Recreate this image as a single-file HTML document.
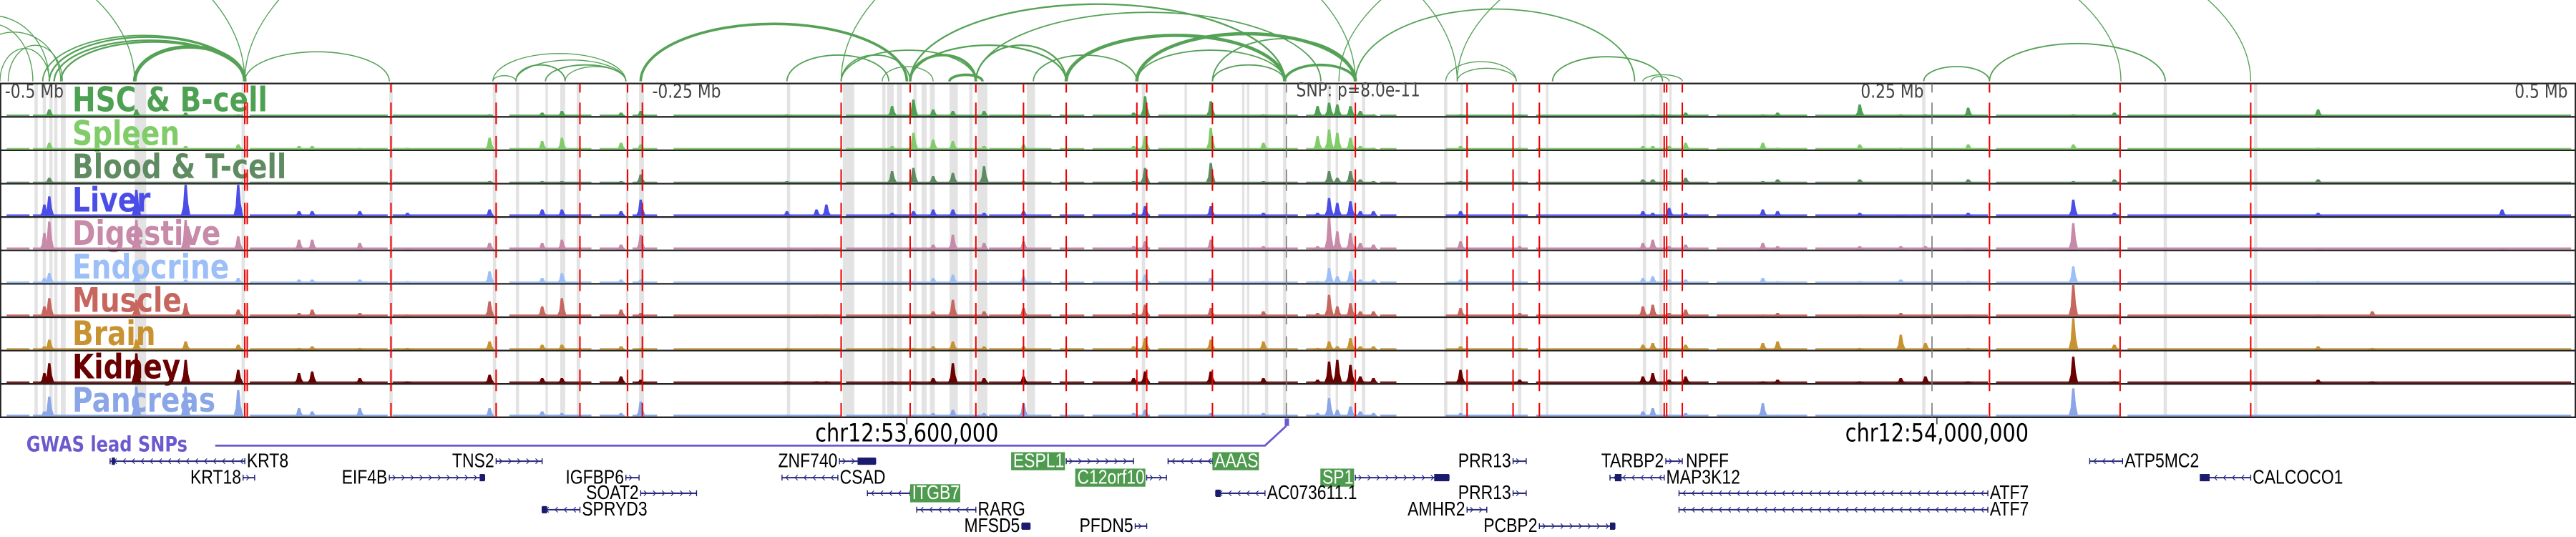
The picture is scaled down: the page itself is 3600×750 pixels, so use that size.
<!DOCTYPE html>
<html><head><meta charset="utf-8">
<style>
html,body{margin:0;padding:0;background:#fff;}
svg{display:block;}
</style></head>
<body>
<svg id="chart" xmlns="http://www.w3.org/2000/svg" width="3600" height="750" viewBox="0 0 1568 326.6" preserveAspectRatio="none">
<g id="arcs"></g>
<g id="bands"></g>
<g id="labels"></g>
<g id="signals"></g>
<g id="borders"></g>
<g id="vlines"></g>
<g id="axis">
  <text x="3" y="59.5" font-family="DejaVu Sans, sans-serif" font-size="9.5" fill="#444">-0.5 Mb</text>
  <text x="397" y="59.5" font-family="DejaVu Sans, sans-serif" font-size="9.5" fill="#444">-0.25 Mb</text>
  <text x="789" y="58.5" font-family="DejaVu Sans, sans-serif" font-size="9.5" fill="#444">SNP: p=8.0e-11</text>
  <text x="1171" y="59.5" text-anchor="end" font-family="DejaVu Sans, sans-serif" font-size="9.5" fill="#444">0.25 Mb</text>
  <text x="1563" y="59.5" text-anchor="end" font-family="DejaVu Sans, sans-serif" font-size="9.5" fill="#444">0.5 Mb</text>
  <line x1="552" y1="254" x2="552" y2="258" stroke="#222" stroke-width="0.6"/>
  <line x1="1179" y1="254" x2="1179" y2="258" stroke="#222" stroke-width="0.6"/>
  <text x="552" y="268.5" text-anchor="middle" font-family="DejaVu Sans, sans-serif" font-size="12.5" fill="#000">chr12:53,600,000</text>
  <text x="1179" y="268.5" text-anchor="middle" font-family="DejaVu Sans, sans-serif" font-size="12.5" fill="#000">chr12:54,000,000</text>
</g>
<g id="gwas">
  <text x="16" y="274.5" font-family="DejaVu Sans, sans-serif" font-weight="bold" font-size="10.5" fill="#6a5acd">GWAS lead SNPs</text>
  <polyline points="131,271 770,271 783,259" fill="none" stroke="#6a5acd" stroke-width="1.2"/>
  <rect x="782" y="254.5" width="2.6" height="4.5" fill="#6a5acd"/>
</g>
<g id="genes"></g>
</svg>
<script>
const NS="http://www.w3.org/2000/svg";
function mk(tag,attrs,parent){const e=document.createElementNS(NS,tag);for(const k in attrs)e.setAttribute(k,attrs[k]);parent.appendChild(e);return e;}

// ---- data ----
const trackNames=["HSC & B-cell","Spleen","Blood & T-cell","Liver","Digestive","Endocrine","Muscle","Brain","Kidney","Pancreas"];
const trackColors=["#4ea152","#80cc68","#5e8b62","#4b4ee6","#c78aa8","#9cbff7","#c6665e","#c7922f","#6b0000","#8aa6e6"];
const bgLevels=[0.8,0.8,0.6,1.0,1.2,0.8,1.0,0.8,0.9,1.0];
const bgRanges=[[4,18],[20,148],[152,236],[239,300],[310,360],[365,380],[385,400],[410,512],[515,600],[602,640],[645,660],[665,700],[705,790],[795,835],[840,850],[880,930],[935,1040],[1045,1100],[1105,1210],[1215,1290],[1295,1565]];
const peakX=[27,30,83,113,145,182,190,219,248,298,330,342,378,390,479,497,503,543,556,568,580,599,623,690,697,737,769,802,809,814,822,828,836,889,925,1000,1006,1016,1026,1073,1082,1132,1157,1172,1198,1262,1287,1411,1444,1523];
const hHSC=[0,4,4,2,1,0,0,0,0,1,2,3,2,3,1,0,0,6,10,4,3,3,1,2,12,9,1,6,8,7,6,3,1,1,1,1,1,1,2,1,2,7,1,1,5,1,2,4,0,0];
const hSpleen=[0,4,3,2,3,2,2,1,1,7,5,7,4,3,1,0,0,2,10,6,5,2,3,2,8,13,4,8,12,10,7,2,1,2,1,2,2,2,4,4,1,3,1,1,3,3,0,1,0,0];
const hBlood=[0,3,0,0,0,0,0,0,0,1,1,1,1,5,1,0,0,7,9,4,6,10,1,1,9,12,1,0,7,3,7,2,1,1,0,2,2,1,3,1,2,2,0,0,2,1,2,2,0,0];
const hLiver=[7,12,16,19,19,3,3,3,2,4,4,4,3,10,3,4,7,2,3,4,4,2,3,2,6,6,2,2,11,8,9,3,3,3,1,3,2,5,2,4,3,2,1,1,2,10,2,2,0,4];
const hDigestive=[10,17,18,18,8,6,6,4,1,4,4,6,3,9,1,1,1,1,1,3,9,4,5,2,5,6,2,2,19,11,10,4,3,5,2,4,6,2,3,4,2,2,2,2,1,16,1,1,0,1];
const hEndocrine=[3,6,8,2,3,2,2,2,1,7,3,6,2,2,1,0,0,1,1,3,5,1,4,1,5,3,1,1,9,4,7,2,2,2,1,3,4,2,2,3,1,1,2,1,1,10,1,1,0,0];
const hMuscle=[6,11,10,8,4,2,4,2,1,9,6,11,4,2,1,1,1,1,1,3,10,3,5,2,7,5,3,2,13,6,8,3,3,5,2,6,7,2,4,1,2,1,2,1,1,19,1,1,3,0];
const hBrain=[2,6,6,5,3,1,2,1,1,5,3,3,2,1,1,0,0,1,1,2,5,2,2,2,7,6,5,1,5,2,7,2,2,2,1,3,4,1,3,4,5,1,9,4,1,19,3,2,1,0];
const hKidney=[6,12,18,14,8,6,7,3,1,5,3,3,4,2,1,1,1,1,1,3,12,3,4,3,7,7,3,2,13,14,11,4,3,8,2,4,6,2,4,1,2,1,3,4,1,16,1,2,1,0];
const hPancreas=[3,12,18,18,16,5,3,5,1,5,3,2,2,9,1,1,1,1,1,2,4,2,8,2,4,2,2,2,11,4,6,3,2,2,1,3,5,1,2,8,1,1,1,1,1,17,1,1,0,0];
const trackHeights=[hHSC,hSpleen,hBlood,hLiver,hDigestive,hEndocrine,hMuscle,hBrain,hKidney,hPancreas];
const redLines=[149,150.5,238,302,353,382,391,512,554,594,623,649,692,698,738,825,893,921,937,1013,1014.5,1024,1211,1290.5,1370];
const grayLines=[783,1176];
const bandStarts=[21,26,30,33,37,82,147,237,300,314,332,341,351,381,389,479,513,537,540,546,556,561,566,578,590,595,625,695,721,756,759,770,781,808,813,822,829,879,889,924,941,1000,1010,1016,1170,1317,1372];
const bandWidths=[2,2,2,2,3,7,2,2,2,2,1.5,3,2,1.5,3,2,7,2,4,3,2,3,3,5,2,6,5,2,1.5,1.5,1.5,2,2,2,1.5,2,2,2,1.5,2,1.5,2,2,1.5,2,2,2];
// arcs: start, end, height, stroke width
const arcStart=[-40,-30,-20,0,5,30,33,37,26,82,149,-200,-150,149,300,300,314,332,314,344,390,479,512,512,537,554,578,554,594,629,649,554,594,692,738,738,692,782,825,945,880,887,1000,1005,512,815,887,1171,1211];
const arcEnd=[30,20,37,30,38,149,149,149,149,149,237,82,149,887,381,314,344,381,381,381,552,541,554,594,568,594,598,649,649,692,782,782,804,782,825,782,825,825,995,1012,923,923,1024,1016,825,1291,1370,1211,1318];
const arcHeight=[40,35,30,20,22,27,25,24,28,21,18,90,100,150,17,3.5,10,10,13,9,35,16,16,19,9,16,4,22,22,16,28,47,42,19,26,10,29,10,44,15,12,8,4,3,100,110,110,9,23];
const arcWidth=[0.6,0.6,0.6,0.6,0.6,1,1,1,0.8,2.2,0.7,0.6,0.6,0.6,0.6,0.6,0.8,0.8,0.6,0.6,1.6,0.8,0.8,0.8,0.6,1.6,1.6,1,1,0.8,2,1,0.8,0.8,0.8,0.8,2,1.6,0.8,0.8,0.6,0.6,0.6,0.6,0.6,0.6,0.6,0.8,0.8];
// genes
const geneNames=["KRT8","TNS2","ZNF740","ESPL1","AAAS","PRR13","TARBP2","ATP5MC2","KRT18","EIF4B","IGFBP6","CSAD","C12orf10","SP1","MAP3K12","CALCOCO1","SOAT2","ITGB7","AC073611.1","PRR13","ATF7","SPRYD3","RARG","AMHR2","ATF7","MFSD5","PFDN5","PCBP2","NPFF"];
const geneStart=[67,302,511,649,711,921,1014,1272,148,237,381,476,698,825,980,1340,390,528,740,921,1022,330,558,893,1022,622,691,937,1025];
const geneEnd=[149,330,533,690,738,929,1024,1292,155,295,389,510,710,882,1013,1370,424,554,770,929,1210,353,594,905,1210,627,698,983,1025];
const geneRow=[0,0,0,0,0,0,0,0,1,1,1,1,1,1,1,1,2,2,2,2,2,3,3,3,3,4,4,4,0];
const geneStrand=["-","+","+","+","-","+","+","-","+","+","+","-","+","+","-","-","+","-","-","+","-","-","-","+","-","+","+","+","+"];
const geneLabelSide=["R","L","L","L","R","L","L","R","L","L","L","R","L","L","R","R","L","R","R","L","R","R","R","L","R","L","L","L","R"];
const geneBoxed=[0,0,0,1,1,0,0,0,0,0,0,0,1,1,0,0,0,1,0,0,0,0,0,0,0,0,0,0,0];
const thickStart=[522,292,873,740,330,1339,622,980,983,68];
const thickEnd=[533,295,882,743,333,1345,627,983,987,70];
const thickRow=[0,1,1,2,3,1,4,4,1,0];
const rowY=[280.5,290.5,300,310,320];

const T0=50.8, TH=20.3;
const arcBase=49.5;
const SY=1.22;
function stretch(t){const y=+t.getAttribute('y');t.setAttribute('transform',`translate(0,${y}) scale(1,${SY}) translate(0,${-y})`);}

// arcs
const gA=document.getElementById('arcs');
for(let i=0;i<arcStart.length;i++){
  const x1=arcStart[i],x2=arcEnd[i],rx=(x2-x1)/2,h=arcHeight[i];
  const p=mk('path',{d:`M${x1},${arcBase} A${rx},${h} 0 0 1 ${x2},${arcBase}`,fill:'none',stroke:'#55a257','stroke-width':arcWidth[i]},gA);
  
  
}
// bands
const gB=document.getElementById('bands');
for(let i=0;i<bandStarts.length;i++){
  const r=mk('rect',{x:bandStarts[i],y:T0,width:bandWidths[i],height:TH*10,fill:'#e3e3e3'},gB);
  
  
}
// labels
const gL=document.getElementById('labels');
trackNames.forEach((n,i)=>{
  const t=mk('text',{x:44,y:T0+i*TH+17,'font-family':'DejaVu Sans, sans-serif','font-weight':'bold','font-size':17,fill:trackColors[i]},gL);
  t.textContent=n;
  
  
  stretch(t);
});
// signals
const gS=document.getElementById('signals');
trackNames.forEach((n,i)=>{
  const base=T0+(i+1)*TH-0.6;
  const g=mk('g',{fill:trackColors[i]},gS);
  
  
  bgRanges.forEach(r=>{
    const b=mk('rect',{x:r[0],y:base-bgLevels[i],width:r[1]-r[0],height:bgLevels[i]},g);
    
    
  });
  const hs=trackHeights[i];
  peakX.forEach((x,j)=>{
    const h=hs[j]; if(!h) return;
    const d=`M${x-3},${base} L${x-1.6},${base-h*0.3} L${x-0.7},${base-h} L${x+0.7},${base-h} L${x+1.6},${base-h*0.4} L${x+3},${base} Z`;
    const p=mk('path',{d:d},g);
    
    
  });
});
// borders
const gR=document.getElementById('borders');
for(let i=0;i<=10;i++){
  const l=mk('line',{x1:0,x2:1568,y1:T0+i*TH,y2:T0+i*TH,stroke:'#222','stroke-width':1},gR);
  
  
}
const fr1=mk('line',{x1:0.4,x2:0.4,y1:T0,y2:T0+10*TH,stroke:'#222','stroke-width':0.8},gR);


const fr2=mk('line',{x1:1567.6,x2:1567.6,y1:T0,y2:T0+10*TH,stroke:'#222','stroke-width':0.8},gR);


// vertical dashed lines
const gV=document.getElementById('vlines');
function dashed(x,color,w,name){
  const segs=[[T0,T0+5.5]];
  for(let i=1;i<10;i++){const b=T0+i*TH;segs.push([b-8.7,b+4.4]);}
  segs.push([T0+10*TH-8.7,T0+10*TH]);
  segs.forEach(s=>{
    const l=mk('line',{x1:x,x2:x,y1:s[0],y2:s[1],stroke:color,'stroke-width':w},gV);
    
    
  });
}
redLines.forEach(x=>dashed(x,'#ee0000',0.9,'snp-marker-line'));
grayLines.forEach(x=>dashed(x,'#777',0.7,'lead-snp-line'));
// genes
const gG=document.getElementById('genes');
for(let i=0;i<geneNames.length;i++){
  const y=rowY[geneRow[i]],x1=geneStart[i],x2=geneEnd[i];
  const g=mk('g',{},gG);
  
  
  if(x2>x1){
    mk('line',{x1:x1,x2:x2,y1:y,y2:y,stroke:'#2a2a80','stroke-width':0.9},g);
    for(let cx=x1+3;cx<x2-1;cx+=5.5){
      const d=geneStrand[i]==='+'?`M${cx-1},${y-1.6} L${cx+0.6},${y} L${cx-1},${y+1.6}`:`M${cx+1},${y-1.6} L${cx-0.6},${y} L${cx+1},${y+1.6}`;
      mk('path',{d:d,fill:'none',stroke:'#2a2a80','stroke-width':0.5},g);
    }
    mk('line',{x1:x1,x2:x1,y1:y-1.8,y2:y+1.8,stroke:'#1a1a6e','stroke-width':0.6},g);
    mk('line',{x1:x2,x2:x2,y1:y-1.8,y2:y+1.8,stroke:'#1a1a6e','stroke-width':0.6},g);
  }
  const left=geneLabelSide[i]==='L';
  const tx=left?x1-1.2:x2+1.2;
  const t=mk('text',{x:tx,y:y+3.6,'text-anchor':left?'end':'start','font-family':'Liberation Sans, sans-serif','font-size':10,fill:geneBoxed[i]?'#fff':'#000'},g);
  t.textContent=geneNames[i];
  if(geneBoxed[i]){
    const w=t.getComputedTextLength()+1.6;
    const bx=left?tx-w+0.4:tx-1.2;
    const r=document.createElementNS(NS,'rect');
    r.setAttribute('x',bx);r.setAttribute('y',y-5.5);r.setAttribute('width',w);r.setAttribute('height',11);r.setAttribute('fill','#4e9a4e');
    
    
    g.insertBefore(r,t);
  }
  stretch(t);
}
for(let i=0;i<thickStart.length;i++){
  const y=rowY[thickRow[i]];
  const r=mk('rect',{x:thickStart[i],y:y-2.2,width:thickEnd[i]-thickStart[i],height:4.4,fill:'#1a1a6e'},gG);
  
  
}
document.querySelectorAll('#axis text, #gwas text').forEach(stretch);
</script>
</body></html>
